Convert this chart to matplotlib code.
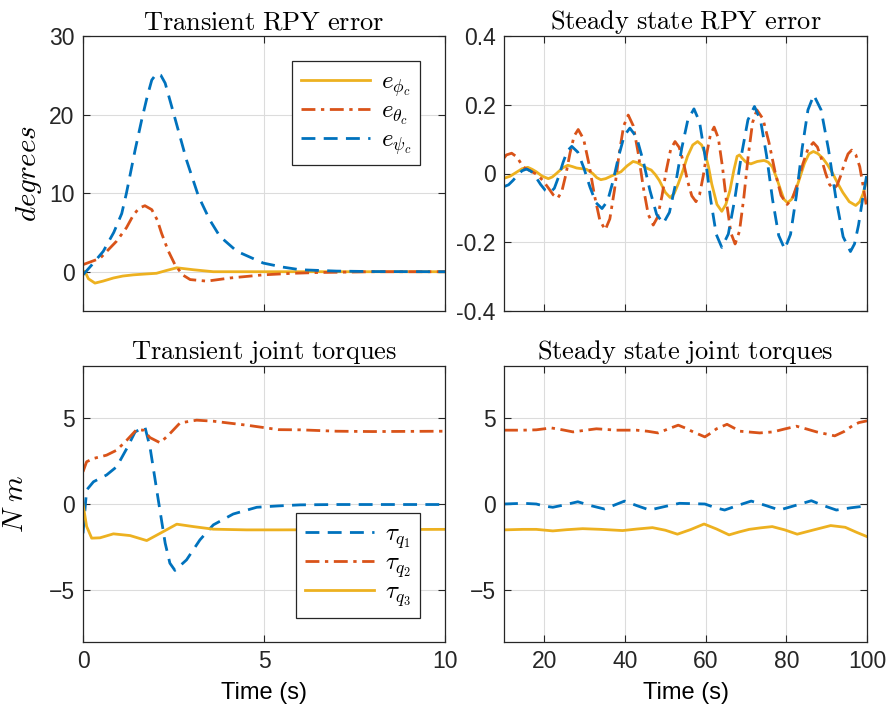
import matplotlib
matplotlib.use("Agg")
import matplotlib.pyplot as plt

plt.rcParams["font.family"] = ["Liberation Sans", "DejaVu Sans"]
plt.rcParams["mathtext.fontset"] = "cm"

BLUE, ORANGE, YELLOW = "#0072BD", "#D95319", "#EDB120"

# --- transient RPY error (deg) ---
t_psi = [0, 0.25, 0.56, 0.85, 1.07, 1.2, 1.44, 1.62, 1.78, 1.9, 2.03, 2.15, 2.27, 2.5, 2.86, 3.19, 3.5, 3.78, 4.25, 4.98, 5.5, 6.0, 7.0, 8.0, 10.0]
e_psi = [-0.4, 0.9, 2.6, 5.0, 7.4, 10.0, 15.5, 19.3, 22.4, 24.4, 25.2, 25.0, 24.0, 20.2, 14.2, 9.6, 6.6, 4.5, 2.6, 1.1, 0.6, 0.25, 0.08, 0.02, 0.0]
t_theta = [0, 0.47, 0.93, 1.2, 1.39, 1.55, 1.71, 1.9, 2.05, 2.17, 2.35, 2.54, 2.75, 2.96, 3.42, 4.06, 4.98, 5.8, 6.5, 8.0, 10.0]
e_theta = [0.9, 1.7, 3.9, 5.6, 7.2, 8.1, 8.4, 7.9, 6.6, 4.9, 2.7, 0.9, -0.4, -1.0, -1.2, -0.8, -0.4, -0.2, -0.1, 0.0, 0.0]
t_phi = [0, 0.05, 0.15, 0.33, 0.55, 0.84, 1.1, 1.39, 1.7, 2.03, 2.3, 2.59, 3.05, 3.6, 5.0, 10.0]
e_phi = [0.0, 0.05, -0.9, -1.45, -1.2, -0.8, -0.55, -0.4, -0.3, -0.2, 0.15, 0.5, 0.25, 0.0, 0.0, 0.0]

# --- steady state RPY error (deg) ---
ts_psi = [10, 11.12, 12.24, 13.36, 14.48, 15.6, 16.76, 17.92, 19.08, 20.24, 21.4,
          22.48, 23.56, 24.64, 25.72, 26.8, 28.3, 29.8, 31.3, 32.8, 34.3,
          35.68, 37.06, 38.44, 39.82, 41.2, 42.86, 44.52, 46.18, 47.84, 49.5,
          51.02, 52.54, 54.06, 55.58, 57.1, 58.48, 59.86, 61.24, 62.62, 64.0,
          65.62, 67.24, 68.86, 70.48, 72.1, 73.6, 75.1, 76.6, 78.1, 79.6,
          81.04, 82.48, 83.92, 85.36, 86.8, 88.62, 90.44, 92.26, 94.08, 95.9,
          96.9, 97.9, 98.9, 100]
es_psi = [-0.038, -0.033, -0.020, -0.005, 0.008, 0.013, 0.006, -0.011, -0.032, -0.049, -0.056,
          -0.043, -0.009, 0.032, 0.066, 0.079, 0.062, 0.016, -0.039, -0.085, -0.102,
          -0.080, -0.021, 0.051, 0.110, 0.132, 0.106, 0.036, -0.049, -0.119, -0.145,
          -0.113, -0.030, 0.073, 0.156, 0.188, 0.150, 0.049, -0.076, -0.177, -0.215,
          -0.176, -0.073, 0.053, 0.156, 0.195, 0.155, 0.052, -0.077, -0.180, -0.220,
          -0.177, -0.065, 0.073, 0.185, 0.228, 0.185, 0.071, -0.070, -0.184, -0.227,
          -0.205, -0.150, -0.075, 0.0]
ts_theta = [10, 10.6, 11.9, 13.2, 14.8, 16.5, 18.2, 19.6, 21, 22.2, 23.3,
            24.32, 25.34, 26.36, 27.38, 28.4, 29.74, 31.08, 32.42, 33.76, 35.1,
            36.24, 37.38, 38.52, 39.66, 40.8, 42.04, 43.28, 44.52, 45.76, 47.0,
            48.08, 49.16, 50.24, 51.32, 52.4, 53.44, 54.48, 55.52, 56.56, 57.6,
            58.5, 59.4, 60.3, 61.2, 62.1, 63.14, 64.18, 65.22, 66.26, 67.3,
            68.38, 69.46, 70.54, 71.62, 72.7, 74.2, 75.7, 77.2, 78.7, 80.2,
            81.5, 82.8, 84.1, 85.4, 86.7, 87.7, 88.7, 89.7, 90.7, 91.7,
            92.6, 93.5, 94.4, 95.3, 96.2, 97.2, 98.2, 99.1, 100]
es_theta = [0.045, 0.054, 0.059, 0.048, 0.018, 0.008, -0.003, -0.02, -0.042, -0.062, -0.072,
            -0.053, -0.003, 0.059, 0.109, 0.128, 0.100, 0.027, -0.063, -0.136, -0.164,
            -0.132, -0.049, 0.055, 0.138, 0.170, 0.139, 0.059, -0.039, -0.119, -0.150,
            -0.127, -0.066, 0.009, 0.070, 0.093, 0.076, 0.033, -0.022, -0.065, -0.082,
            -0.061, -0.007, 0.060, 0.114, 0.135, 0.103, 0.018, -0.088, -0.173, -0.205,
            -0.168, -0.070, 0.050, 0.148, 0.185, 0.159, 0.090, 0.005, -0.064, -0.090,
            -0.073, -0.028, 0.028, 0.073, 0.090, 0.077, 0.043, 0.002, -0.032, -0.045,
            -0.034, -0.006, 0.029, 0.057, 0.068, 0.055, 0.020, -0.040, -0.105]
ts_phi = [10, 11.5, 13, 14.5, 15.9, 17, 18, 19.5, 21, 22, 23, 24.5, 25.8, 27, 28, 30.5,
          32, 33, 34, 35.2, 36.5, 38, 39, 40.5, 42, 43, 44, 45.5, 46.5, 47.5, 48.5,
          50, 51.2, 52.2, 53.2, 54.4, 55.5, 56.8, 58, 59, 59.8, 60.7, 61.5, 62.8, 64,
          65, 66, 67, 67.8, 68.4, 69, 70, 71.2, 72.8, 74.5, 75.5, 76.5, 77.5, 78.5,
          79.4, 80.3, 81.3, 82.3, 83.4, 84.5, 85.6, 86.7, 87.8, 89, 90.3, 91.5,
          92.8, 94, 95.6, 97.2, 98.2, 99, 100]
es_phi = [-0.014, -0.008, 0.003, 0.014, 0.018, 0.012, 0.005, -0.008, -0.015, -0.01, 0.0, 0.016, 0.024, 0.02, 0.016, 0.012,
          0.0, -0.012, -0.018, -0.015, -0.008, 0.0, 0.005, 0.022, 0.035, 0.032, 0.025, 0.015, 0.01, -0.003, -0.02,
          -0.055, -0.07, -0.058, -0.03, 0.01, 0.05, 0.083, 0.093, 0.083, 0.06, 0.02, -0.03, -0.09, -0.11,
          -0.09, -0.05, 0.01, 0.05, 0.054, 0.045, 0.033, 0.028, 0.035, 0.038, 0.033, 0.02, -0.01, -0.045,
          -0.075, -0.085, -0.075, -0.05, -0.01, 0.03, 0.057, 0.064, 0.058, 0.045, 0.024, 0.0,
          -0.03, -0.055, -0.082, -0.093, -0.082, -0.06, -0.015]

# --- transient joint torques (N m) ---
t_q1 = [0, 0.1, 0.29, 0.65, 0.93, 1.21, 1.44, 1.71, 1.85, 2.08, 2.27, 2.4, 2.54, 2.86, 3.23, 3.6, 4.15, 4.8, 5.4, 6.0, 7.0, 10.0]
tau_q1 = [-1.7, 0.81, 1.29, 1.68, 2.16, 3.22, 4.18, 4.47, 3.31, 0.23, -2.27, -3.43, -3.85, -3.24, -2.08, -1.21, -0.58, -0.19, -0.11, -0.05, -0.03, -0.03]
t_q2 = [0, 0.1, 0.29, 0.65, 0.93, 1.21, 1.48, 1.67, 1.85, 2.13, 2.36, 2.68, 3.14, 3.6, 4.52, 5.4, 6.0, 7.0, 8.0, 10.0]
tau_q2 = [1.87, 2.45, 2.64, 2.83, 3.12, 3.7, 4.31, 4.28, 3.85, 3.55, 3.99, 4.7, 4.86, 4.8, 4.57, 4.31, 4.3, 4.22, 4.2, 4.22]
t_q3 = [0, 0.1, 0.24, 0.47, 0.84, 1.3, 1.76, 2.13, 2.59, 3.05, 3.6, 4.52, 5.4, 10.0]
tau_q3 = [0.0, -1.3, -1.98, -1.96, -1.73, -1.83, -2.12, -1.7, -1.17, -1.31, -1.46, -1.5, -1.5, -1.47]

# --- steady state joint torques (N m) ---
ts_q1 = [10, 14.7, 18, 20, 22.1, 25, 28.3, 31.6, 34.9, 37.4, 39.9, 43, 46.1, 49.8, 53.5, 59.8, 62.2, 64.7, 68, 71.3, 74.8, 78.3, 82.3, 86.2, 89.3, 92.4, 96, 99.5, 100]
taus_q1 = [0.0, 0.04, 0.0, -0.12, -0.19, -0.05, 0.13, -0.1, -0.29, -0.06, 0.17, -0.1, -0.35, -0.15, 0.04, 0.0, -0.2, -0.35, -0.08, 0.17, -0.08, -0.35, -0.08, 0.19, -0.1, -0.35, -0.22, -0.12, -0.1]
ts_q2 = [10, 14.7, 18, 21.7, 24.5, 27.1, 30, 32.9, 37.9, 42.8, 45.5, 48.2, 50.7, 53.2, 55, 56.9, 59.8, 61.2, 62.7, 65.3, 66.9, 68.5, 73.4, 76.7, 79.6, 82.5, 85, 87.5, 92, 94.3, 96.6, 98, 100]
taus_q2 = [4.28, 4.28, 4.3, 4.41, 4.3, 4.18, 4.27, 4.36, 4.28, 4.28, 4.22, 4.12, 4.35, 4.57, 4.4, 4.18, 3.89, 4.1, 4.36, 4.62, 4.42, 4.22, 4.12, 4.18, 4.35, 4.51, 4.35, 4.18, 3.95, 4.2, 4.57, 4.72, 4.82]
ts_q3 = [10, 14.7, 18, 22.1, 25.5, 29.5, 34, 39.4, 43, 46.8, 50, 53, 56.3, 59.6, 62.7, 65.8, 68.3, 70.8, 73.7, 76.5, 79.6, 82.7, 86.8, 91, 94.6, 97.5, 100]
taus_q3 = [-1.5, -1.47, -1.47, -1.56, -1.49, -1.43, -1.47, -1.54, -1.45, -1.37, -1.52, -1.75, -1.48, -1.16, -1.45, -1.79, -1.62, -1.47, -1.38, -1.31, -1.5, -1.75, -1.5, -1.25, -1.35, -1.65, -1.89]

W, H = 888, 724
fig = plt.figure(figsize=(W / 100, H / 100), dpi=100)


def mk_ax(x0, y0, x1, y1):
    ax = fig.add_axes([x0 / W, 1 - y1 / H, (x1 - x0) / W, (y1 - y0) / H])
    ax.grid(True, color="#dcdcdc", lw=0.8)
    ax.set_axisbelow(True)
    ax.tick_params(direction="in", top=True, right=True, labelsize=16.5, length=5,
                   color="#262626", labelcolor="#262626", pad=6)
    for s in ax.spines.values():
        s.set_color("#262626")
        s.set_linewidth(0.9)
    return ax


def mk_legend(ax, loc, anchor):
    leg = ax.legend(loc=loc, bbox_to_anchor=anchor, fontsize=18, handlelength=2.75,
                    labelspacing=0.0, handletextpad=0.45, borderpad=0.35,
                    borderaxespad=0, fancybox=False, edgecolor="#262626", framealpha=1)
    leg.get_frame().set_linewidth(0.9)


LW = 2.0
DASH = (0, (5, 3))
DASHDOT = (0, (5, 2, 1.2, 2))
TFS = 19

ax1 = mk_ax(83, 36, 445, 311)
ax1.plot(t_phi, e_phi, color=YELLOW, lw=LW, label=r"$e_{\phi_c}$")
ax1.plot(t_theta, e_theta, color=ORANGE, lw=LW, ls=DASHDOT, label=r"$e_{\theta_c}$")
ax1.plot(t_psi, e_psi, color=BLUE, lw=LW, ls=DASH, label=r"$e_{\psi_c}$")
ax1.set_xlim(0, 10)
ax1.set_ylim(-5, 30)
ax1.set_xticks([0, 5, 10])
ax1.set_xticklabels([])
ax1.set_yticks([0, 10, 20, 30])
ax1.set_ylabel(r"$degrees$", fontsize=21, labelpad=4)
ax1.set_title(r"$\mathrm{Transient\ RPY\ error}$", fontsize=TFS, pad=5)
mk_legend(ax1, "upper right", (0.931, 0.909))

ax2 = mk_ax(504, 36, 867, 311)
ax2.plot(ts_phi, es_phi, color=YELLOW, lw=LW)
ax2.plot(ts_theta, es_theta, color=ORANGE, lw=LW, ls=DASHDOT)
ax2.plot(ts_psi, es_psi, color=BLUE, lw=LW, ls=DASH)
ax2.set_xlim(10, 100)
ax2.set_ylim(-0.4, 0.4)
ax2.set_xticks([20, 40, 60, 80, 100])
ax2.set_xticklabels([])
ax2.set_yticks([-0.4, -0.2, 0, 0.2, 0.4])
ax2.set_yticklabels(["-0.4", "-0.2", "0", "0.2", "0.4"])
ax2.set_title(r"$\mathrm{Steady\ state\ RPY\ error}$", fontsize=TFS, pad=5)

ax3 = mk_ax(83, 366, 445, 642)
ax3.plot(t_q1, tau_q1, color=BLUE, lw=LW, ls=DASH, label=r"$\tau_{q_1}$")
ax3.plot(t_q2, tau_q2, color=ORANGE, lw=LW, ls=DASHDOT, label=r"$\tau_{q_2}$")
ax3.plot(t_q3, tau_q3, color=YELLOW, lw=LW, label=r"$\tau_{q_3}$")
ax3.set_xlim(0, 10)
ax3.set_ylim(-8, 8)
ax3.set_xticks([0, 5, 10])
ax3.set_yticks([-5, 0, 5])
ax3.set_xlabel("Time (s)", fontsize=17, labelpad=6)
ax3.set_ylabel(r"$N\ m$", fontsize=21, labelpad=14)
ax3.set_title(r"$\mathrm{Transient\ joint\ torques}$", fontsize=TFS, pad=5)
mk_legend(ax3, "lower right", (0.931, 0.087))

ax4 = mk_ax(504, 366, 867, 642)
ax4.plot(ts_q1, taus_q1, color=BLUE, lw=LW, ls=DASH)
ax4.plot(ts_q2, taus_q2, color=ORANGE, lw=LW, ls=DASHDOT)
ax4.plot(ts_q3, taus_q3, color=YELLOW, lw=LW)
ax4.set_xlim(10, 100)
ax4.set_ylim(-8, 8)
ax4.set_xticks([20, 40, 60, 80, 100])
ax4.set_yticks([-5, 0, 5])
ax4.set_xlabel("Time (s)", fontsize=17, labelpad=6)
ax4.set_title(r"$\mathrm{Steady\ state\ joint\ torques}$", fontsize=TFS, pad=5)

fig.savefig("out.png", dpi=100, facecolor="white")
